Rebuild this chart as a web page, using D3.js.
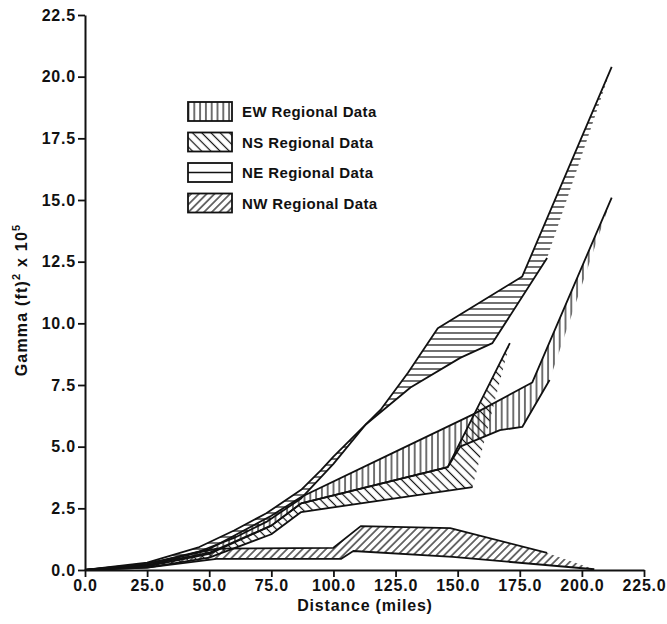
<!DOCTYPE html>
<html><head><meta charset="utf-8">
<script src="https://cdn.jsdelivr.net/npm/d3@7"></script>
<style>
body{margin:0;background:#fff}
text{font-family:"Liberation Sans",Arial,Helvetica,sans-serif;font-weight:bold;fill:#111}
</style>
</head><body>
<svg id="chart" width="667" height="624"></svg>
<script>
// ---- data ----
const xTicks = [0,25,50,75,100,125,150,175,200,225];
const yTicks = [0,2.5,5,7.5,10,12.5,15,17.5,20,22.5];
const seriesNames = ["EW Regional Data","NS Regional Data","NE Regional Data","NW Regional Data"];

// EW (vertical hatch)
const ewUpperDist  = [0,25,50,75,87,125,156,180,212];
const ewUpperGamma = [0,0.25,0.85,2.2,2.96,4.8,6.3,7.6,15.1];
const ewLowerDist  = [0,25,50,75,87,146,151,167,176,187,212];
const ewLowerGamma = [0,0.15,0.65,1.8,2.7,4.17,5.0,5.67,5.8,7.7,15.1];

// NS (backslash hatch)
const nsUpperDist  = [0,25,50,75,87,146,171];
const nsUpperGamma = [0,0.2,0.7,1.8,2.7,4.17,9.2];
const nsLowerDist  = [0,25,50,75,87,156,171];
const nsLowerGamma = [0,0.1,0.5,1.45,2.35,3.36,9.2];

// NE (horizontal hatch)
const neUpperDist  = [0,25,46,60,73,87,95,100,119,130,142,176,212];
const neUpperGamma = [0,0.3,0.93,1.6,2.3,3.25,4.05,4.6,6.5,8.0,9.8,11.9,20.4];
const neLowerDist  = [0,25,46,60,73,87,100,113,131,151,164,186,212];
const neLowerGamma = [0,0.15,0.75,1.3,1.95,2.9,4.3,5.9,7.4,8.6,9.2,12.65,20.4];

// NW (slash hatch)
const nwUpperDist  = [0,25,53,100,111,147,186,205];
const nwUpperGamma = [0,0.25,0.87,0.9,1.78,1.7,0.69,0.03];
const nwLowerDist  = [0,25,53,103,108,148,205];
const nwLowerGamma = [0,0.1,0.45,0.45,0.77,0.53,0.03];

// distance up to which each boundary is outlined
const outlineUpperTo = {EW:212, NS:171, NE:212, NW:186};
const outlineLowerTo = {EW:187, NS:156, NE:186, NW:205};

// ---- chart ----
const svg = d3.select("#chart");
const x = d3.scaleLinear().domain([0,225]).range([85,644]);
const y = d3.scaleLinear().domain([0,22.5]).range([570,15]);

const defs = svg.append("defs");
function hatch(id, spacing, angle, sw){
  const p = defs.append("pattern").attr("id",id)
    .attr("patternUnits","userSpaceOnUse")
    .attr("width",spacing).attr("height",spacing)
    .attr("patternTransform",`rotate(${angle})`);
  p.append("line").attr("x1",spacing/2).attr("x2",spacing/2)
    .attr("y1",-1).attr("y2",spacing+1)
    .attr("stroke","#111").attr("stroke-width",sw);
}
hatch("hEW",5.8,0,1.2);
hatch("hNS",6.5,-45,1.2);
hatch("hNE",6,90,1.2);
hatch("hNW",5.5,45,1.2);

const zip = (ds,gs)=>ds.map((d,i)=>[d,gs[i]]);
const bands = [
  {key:"EW", pat:"hEW", up:zip(ewUpperDist,ewUpperGamma), lo:zip(ewLowerDist,ewLowerGamma)},
  {key:"NS", pat:"hNS", up:zip(nsUpperDist,nsUpperGamma), lo:zip(nsLowerDist,nsLowerGamma)},
  {key:"NE", pat:"hNE", up:zip(neUpperDist,neUpperGamma), lo:zip(neLowerDist,neLowerGamma)},
  {key:"NW", pat:"hNW", up:zip(nwUpperDist,nwUpperGamma), lo:zip(nwLowerDist,nwLowerGamma)}
];
const line = d3.line().x(d=>x(d[0])).y(d=>y(d[1]));

const gFill = svg.append("g");
const gLine = svg.append("g");
bands.forEach(b=>{
  const poly = b.up.concat(b.lo.slice().reverse());
  gFill.append("path").attr("d", line(poly)+"Z")
    .attr("fill",`url(#${b.pat})`).attr("stroke","none");
  gLine.append("path").attr("d", line(b.up.filter(d=>d[0]<=outlineUpperTo[b.key])))
    .attr("fill","none").attr("stroke","#111").attr("stroke-width",1.8).attr("stroke-linejoin","round");
  gLine.append("path").attr("d", line(b.lo.filter(d=>d[0]<=outlineLowerTo[b.key])))
    .attr("fill","none").attr("stroke","#111").attr("stroke-width",1.8).attr("stroke-linejoin","round");
});

// axes
const fmt = d3.format(".1f");
const ax = svg.append("g").attr("transform","translate(0,570)")
  .call(d3.axisBottom(x).tickValues(xTicks).tickFormat(fmt).tickSize(7).tickSizeOuter(0).tickPadding(3));
const ay = svg.append("g").attr("transform","translate(85,0)")
  .call(d3.axisLeft(y).tickValues(yTicks).tickFormat(fmt).tickSize(7).tickSizeOuter(0).tickPadding(2));
[ax,ay].forEach(g=>{
  g.select(".domain").attr("stroke","#111").attr("stroke-width",2);
  g.selectAll(".tick line").attr("stroke","#111").attr("stroke-width",1.8);
  g.selectAll(".tick text").attr("font-size",16).attr("font-family","Liberation Sans, Arial, sans-serif")
    .attr("font-weight","bold").attr("fill","#111").style("letter-spacing","0.8px");
});

svg.append("text").attr("x",365).attr("y",611).attr("text-anchor","middle")
  .attr("font-size",16).style("letter-spacing","0.8px").text("Distance (miles)");

const yl = svg.append("text").attr("transform","translate(27,300) rotate(-90)")
  .attr("text-anchor","middle").attr("font-size",16).style("letter-spacing","1.2px");
yl.append("tspan").text("Gamma (ft)");
yl.append("tspan").attr("font-size",11).attr("dy",-7).text("2");
yl.append("tspan").attr("dy",7).text(" x 10");
yl.append("tspan").attr("font-size",11).attr("dy",-7).text("5");

// legend
const leg = svg.append("g");
bands.forEach((b,i)=>{
  const ly = 102 + i*30.5;
  if(b.key==="NE"){
    leg.append("rect").attr("x",188).attr("y",ly).attr("width",44).attr("height",19)
      .attr("fill","#fff").attr("stroke","#111").attr("stroke-width",1.8);
    leg.append("line").attr("x1",188).attr("x2",232).attr("y1",ly+9.5).attr("y2",ly+9.5)
      .attr("stroke","#111").attr("stroke-width",1.4);
  } else {
    leg.append("rect").attr("x",188).attr("y",ly).attr("width",44).attr("height",19)
      .attr("fill",`url(#${b.pat})`).attr("stroke","#111").attr("stroke-width",1.8);
  }
  leg.append("text").attr("x",242).attr("y",ly+15).attr("font-size",15)
    .style("letter-spacing","0.4px").text(seriesNames[i]);
});
</script>
</body></html>
